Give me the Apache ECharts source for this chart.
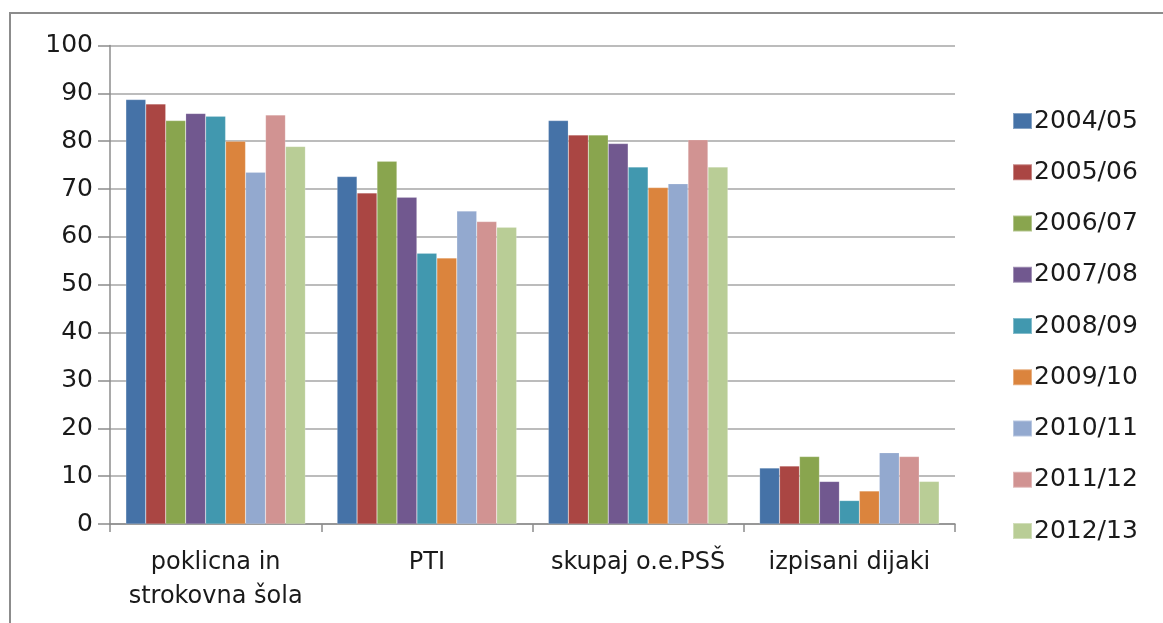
<!DOCTYPE html>
<html>
<head>
<meta charset="utf-8">
<script src="https://cdn.jsdelivr.net/npm/echarts@6/dist/echarts.min.js"></script>
<style>
  html, body { margin: 0; padding: 0; background: #fff; }
  #frame {
    position: absolute; left: 9px; top: 12px; width: 1160px; height: 620px;
    border-left: 2px solid #8c8c8c; border-top: 2px solid #8c8c8c;
  }
  #chart { position: absolute; left: 0; top: 0; width: 1163px; height: 623px; }
</style>
</head>
<body>
<div id="frame"></div>
<div id="chart"></div>
<script>
const categories = ["poklicna in\nstrokovna šola", "PTI", "skupaj o.e.PSŠ", "izpisani dijaki"];
const years = ["2004/05", "2005/06", "2006/07", "2007/08", "2008/09", "2009/10", "2010/11", "2011/12", "2012/13"];
const colors = ["#4572A7", "#AA4643", "#89A54E", "#71588F", "#4198AF", "#DB843D", "#93A9CF", "#D19392", "#B9CD96"];

// values per year, in order of categories
const v2004 = [88.7, 72.6, 84.3, 11.7];
const v2005 = [87.8, 69.2, 81.3, 12.1];
const v2006 = [84.3, 75.8, 81.3, 14.1];
const v2007 = [85.8, 68.3, 79.5, 8.9];
const v2008 = [85.2, 56.6, 74.6, 4.9];
const v2009 = [80.0, 55.6, 70.3, 6.9];
const v2010 = [73.5, 65.4, 71.1, 14.9];
const v2011 = [85.5, 63.2, 80.3, 14.1];
const v2012 = [78.9, 62.0, 74.6, 8.9];
const values = [v2004, v2005, v2006, v2007, v2008, v2009, v2010, v2011, v2012];

const yTicks = { min: 0, max: 100, interval: 10 };

const chart = echarts.init(document.getElementById("chart"));
const font = "'DejaVu Sans', sans-serif";

const option = {
  animation: false,
  textStyle: { fontFamily: font },
  grid: { left: 110, right: 208, top: 45.5, bottom: 99 },
  legend: {
    orient: "vertical",
    left: 1007,
    top: 103.5,
    itemWidth: 19,
    itemHeight: 16,
    itemGap: 26.25,
    icon: "rect",
    data: years,
    textStyle: { fontSize: 25, color: "#1a1a1a", lineHeight: 25, fontFamily: font, padding: [0, 0, 0, -3] }
  },
  xAxis: {
    type: "category",
    data: categories,
    axisLine: { lineStyle: { color: "#8c8c8c", width: 1.5 } },
    axisTick: { show: true, length: 8, lineStyle: { color: "#8c8c8c", width: 1.5 } },
    axisLabel: { interval: 0, hideOverlap: false, color: "#1a1a1a", fontSize: 24, lineHeight: 34, margin: 22, fontFamily: font }
  },
  yAxis: {
    type: "value",
    min: yTicks.min,
    max: yTicks.max,
    interval: yTicks.interval,
    axisLine: { show: true, lineStyle: { color: "#8c8c8c", width: 1.5 } },
    axisTick: { show: true, length: 12, lineStyle: { color: "#8c8c8c", width: 1.5 } },
    axisLabel: { color: "#1a1a1a", fontSize: 25, margin: 17, fontFamily: font },
    splitLine: { lineStyle: { color: "#a6a6a6", width: 1.5 } }
  },
  series: years.map((y, i) => ({
    name: y,
    type: "bar",
    data: values[i],
    barGap: "0%",
    barCategoryGap: "15%",
    itemStyle: { color: colors[i], borderColor: "rgba(255,255,255,0.35)", borderWidth: 0.5 }
  }))
};

chart.setOption(option);
</script>
</body>
</html>
